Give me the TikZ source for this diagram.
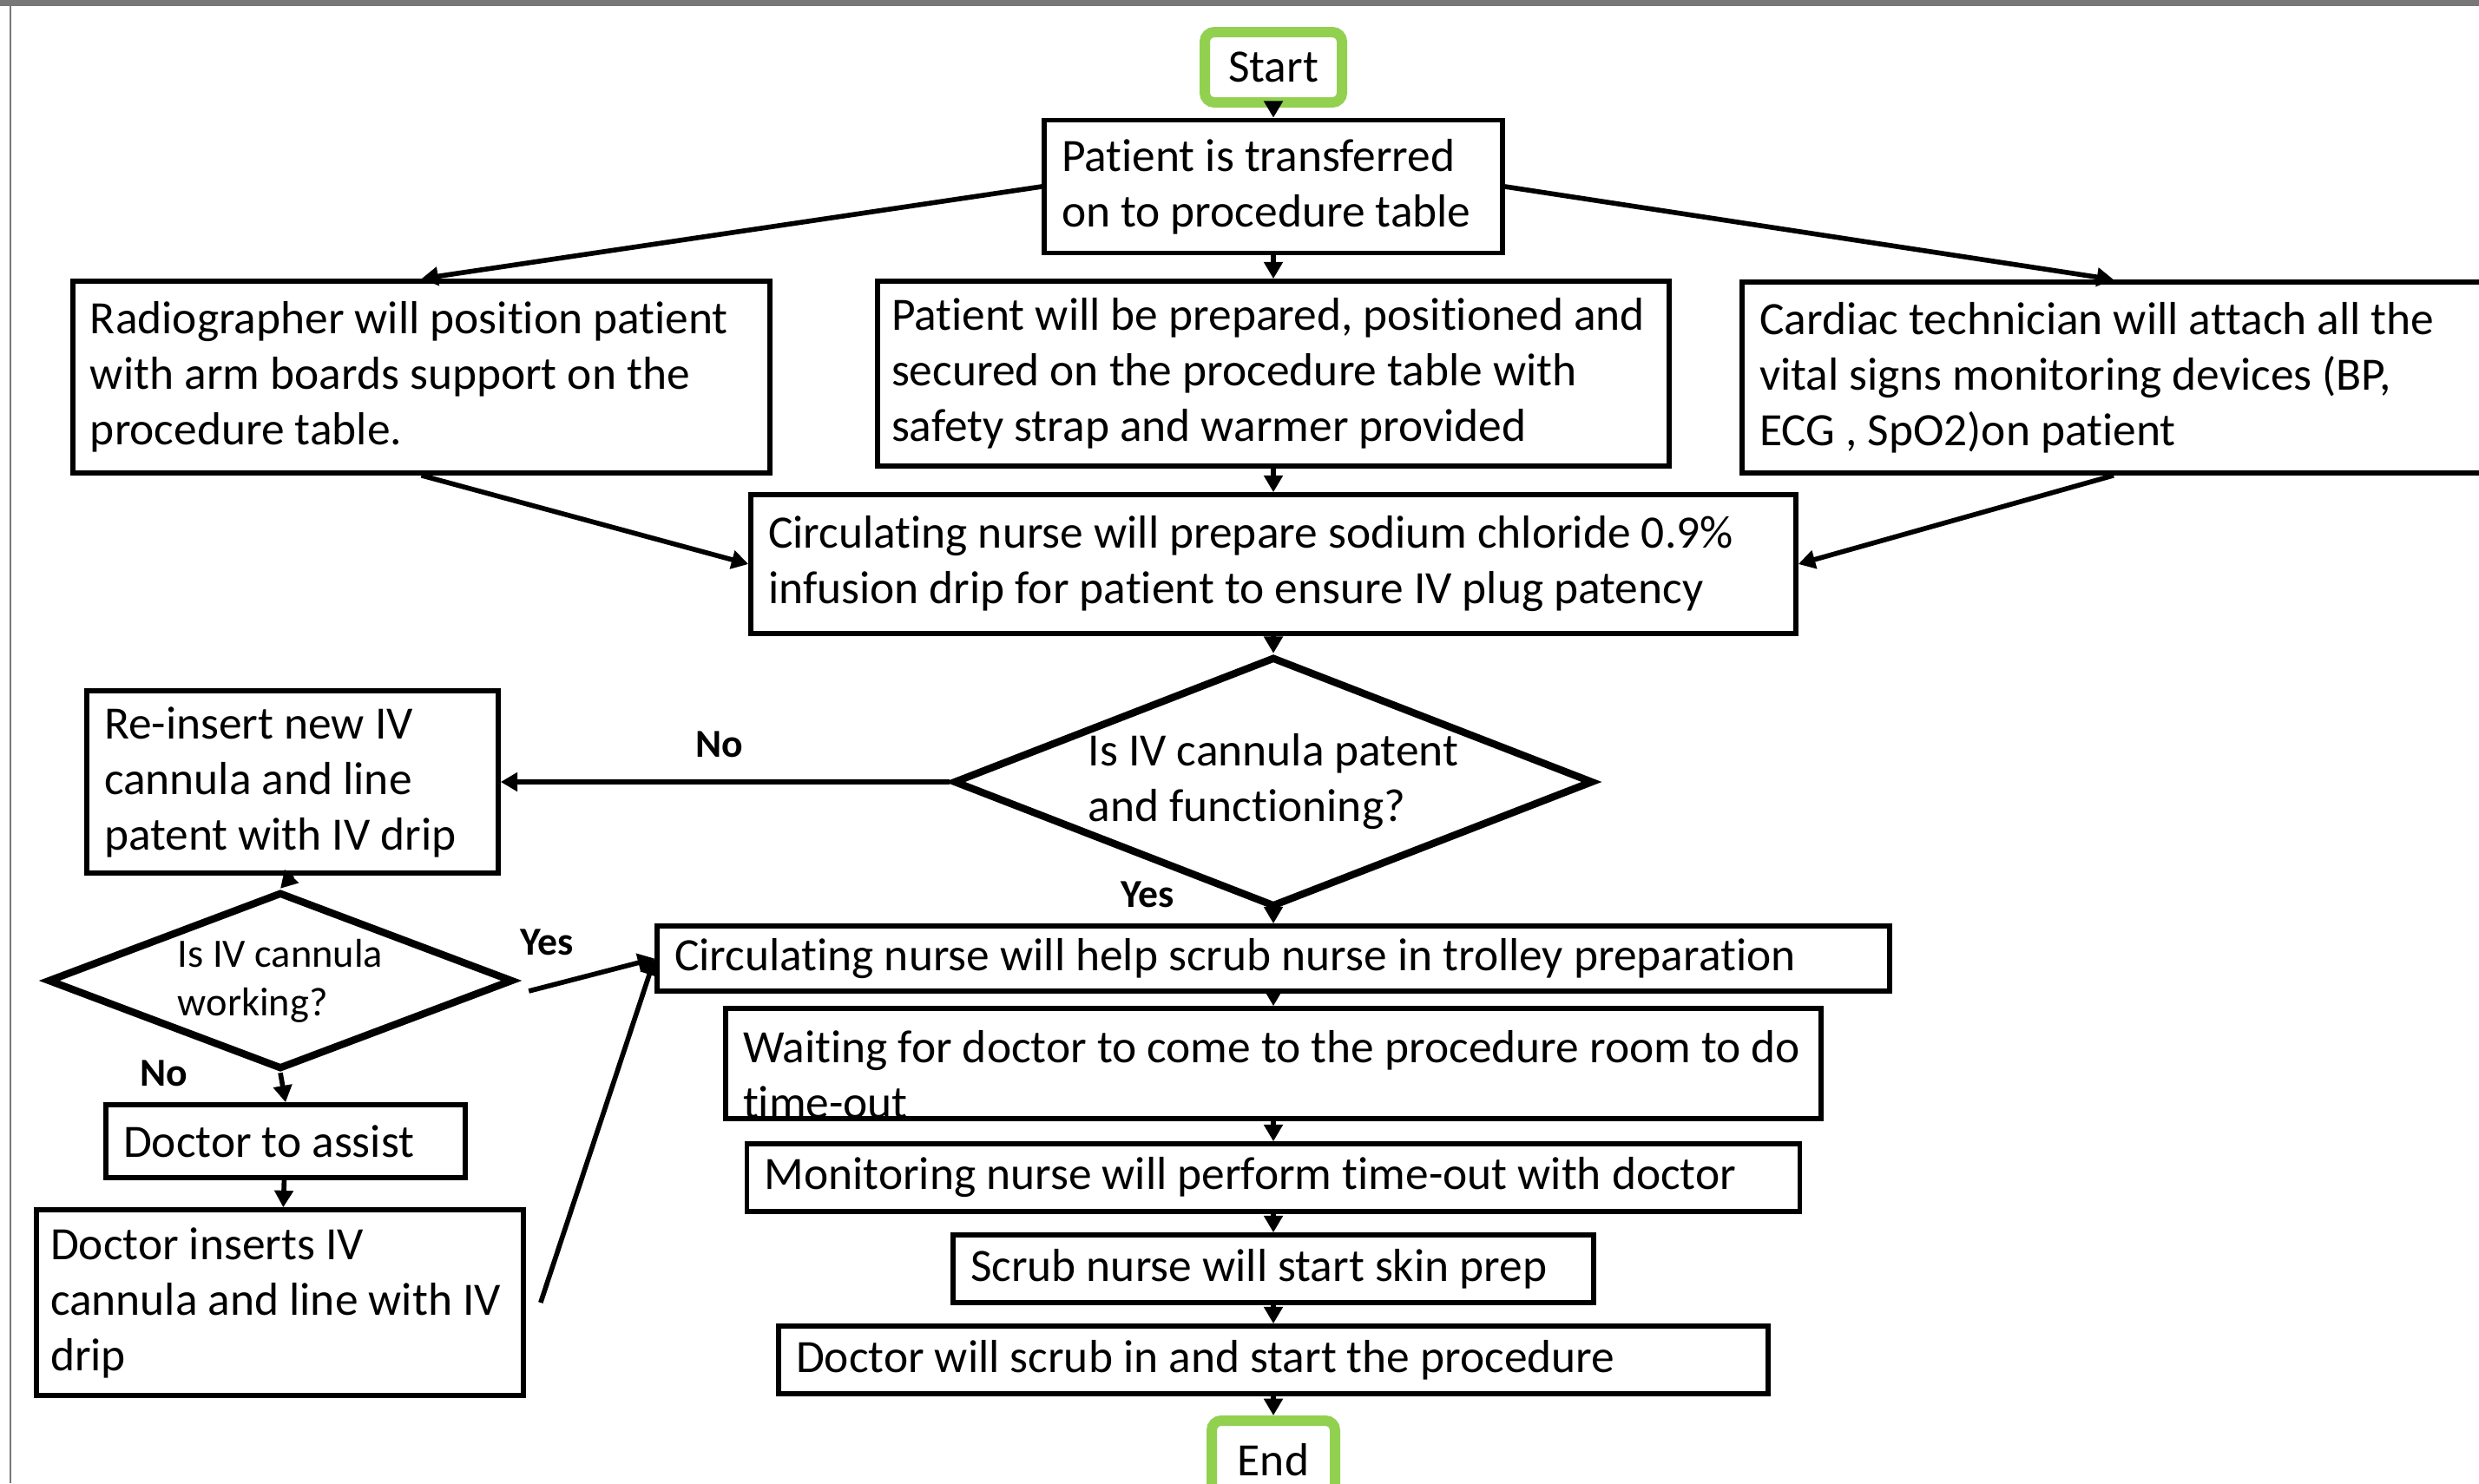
\documentclass[tikz,border=0pt]{standalone}
\usepackage{fontspec}
\setmainfont{Carlito}[Ligatures=NoCommon]
\usetikzlibrary{arrows.meta,positioning,shapes.geometric}
\definecolor{TermGreen}{RGB}{146,208,80}
\definecolor{FrameGray}{RGB}{120,120,120}

\begin{document}
\begin{tikzpicture}[
    stepbox/.style={draw=black, line width=1.6pt, fill=white, align=left, inner xsep=0.2cm, inner ysep=0pt, font=\fontsize{15.2}{18.2}\selectfont, execute at begin node={\spaceskip=0pt\xspaceskip=0pt}},
    term/.style={draw=TermGreen, line width=3.4pt, fill=white, rounded corners=0.11cm, align=center, inner sep=0pt, font=\fontsize{15.2}{18.2}\selectfont},
    decide/.style={diamond, draw=black, line width=2.4pt, fill=white, inner sep=0pt, align=left, font=\fontsize{15.2}{18.2}\selectfont},
    answer/.style={font=\bfseries\fontsize{13}{15.6}\selectfont},
    arrow/.style={-{Triangle[length=5.5pt,width=6pt]}, line width=1.6pt, draw=black}
  ]
    \useasboundingbox (0,0) rectangle (28.56,-17.09);
    \draw[FrameGray, line width=2pt] (0,-0.03) -- (28.56,-0.03);
    \draw[FrameGray, line width=0.6pt] (0.12,0) -- (0.12,-17.09);

    \node[term, minimum width=1.58cm, minimum height=0.81cm] (start) at (14.67,-0.775) {Start};
    \node[stepbox, text width=4.88cm, minimum height=1.53cm] (trans) at (14.67,-2.15) {Patient is transferred\\on to procedure table};
    \node[stepbox, text width=7.63cm, minimum height=2.21cm] (radio) at (4.855,-4.345) {Radiographer will position patient\\with arm boards support on the\\procedure table.};
    \node[stepbox, text width=8.80cm, inner xsep=0.16cm, minimum height=2.13cm] (prep) at (14.67,-4.305) {Patient will be prepared, positioned and\\secured on the procedure table with\\safety strap and warmer provided};
    \node[stepbox, text width=8.16cm, minimum height=2.20cm] (cardiac) at (24.35,-4.35) {Cardiac technician will attach all the\\vital signs monitoring devices (BP,\\ECG , SpO2)on patient};
    \node[stepbox, text width=11.64cm, minimum height=1.60cm] (circ) at (14.67,-6.50) {Circulating nurse will prepare sodium chloride 0.9\%\\infusion drip for patient to ensure IV plug patency};
    \node[decide, aspect=2.56, minimum width=7.37cm, minimum height=2.88cm] (patent) at (14.67,-9.01) {Is IV cannula patent\\and functioning?};
    \node[stepbox, text width=4.34cm, minimum height=2.10cm] (reins) at (3.37,-9.01) {Re-insert new IV\\cannula and line\\patent with IV drip};
    \node[decide, aspect=2.63, minimum width=5.36cm, minimum height=2.04cm, font=\fontsize{13.2}{15.9}\selectfont] (working) at (3.23,-11.30) {Is IV cannula\\working?};
    \node[stepbox, text width=3.74cm, minimum height=0.84cm] (assist) at (3.29,-13.15) {Doctor to assist};
    \node[stepbox, text width=5.29cm, inner xsep=0.16cm, minimum height=2.14cm] (inserts) at (3.225,-15.01) {Doctor inserts IV\\cannula and line with IV\\drip};
    \node[stepbox, text width=13.80cm, minimum height=0.75cm] (help) at (14.67,-11.045) {Circulating nurse will help scrub nurse in trolley preparation};
    \node[stepbox, minimum width=12.62cm, minimum height=1.27cm] (wait) at (14.67,-12.255) {};
    \node[stepbox, draw=none, fill=none, anchor=west] (waittext) at ([yshift=-0.13cm]wait.west) {Waiting for doctor to come to the procedure room to do\\time-out};
    \node[stepbox, text width=11.73cm, minimum height=0.78cm] (monit) at (14.67,-13.57) {Monitoring nurse will perform time-out with doctor};
    \node[stepbox, text width=6.98cm, minimum height=0.78cm] (skin) at (14.67,-14.62) {Scrub nurse will start skin prep};
    \node[stepbox, text width=11.00cm, minimum height=0.78cm] (scrub) at (14.67,-15.67) {Doctor will scrub in and start the procedure};
    \node[term, minimum width=1.42cm, minimum height=0.90cm] (stop) at (14.67,-16.82) {End};

    \node[answer] (nopatent) at (8.29,-8.58) {No};
    \node[answer] (yespatent) at (13.22,-10.31) {Yes};
    \node[answer] (yesworking) at (6.30,-10.86) {Yes};
    \node[answer] (noworking) at (1.89,-12.37) {No};

    \draw[arrow] (start) -- (trans);
    \draw[arrow] (trans.west) -- (radio.north);
    \draw[arrow] (trans.east) -- (cardiac.north);
    \draw[arrow] (trans) -- (prep);
    \draw[arrow] (radio.south) -- (circ.west);
    \draw[arrow] (cardiac.south) -- (circ.east);
    \draw[arrow] (prep) -- (circ);
    \draw[arrow] (circ) -- (patent);
    \draw[arrow] (patent.west) -- (reins.east);
    \draw[arrow] (patent.south) -- (help.north);
    \draw[arrow] (reins.south) -- (working.north);
    \draw[arrow] ([xshift=0.14cm,yshift=-0.12cm]working.east) -- (help.west);
    \draw[arrow] (working.south) -- (assist.north);
    \draw[arrow] (assist) -- (inserts);
    \draw[arrow] ([xshift=0.17cm]inserts.east) -- (help.west);
    \draw[arrow] (help) -- (wait);
    \draw[arrow] (wait) -- (monit);
    \draw[arrow] (monit) -- (skin);
    \draw[arrow] (skin) -- (scrub);
    \draw[arrow] (scrub) -- (stop);
  \end{tikzpicture}
\end{document}
